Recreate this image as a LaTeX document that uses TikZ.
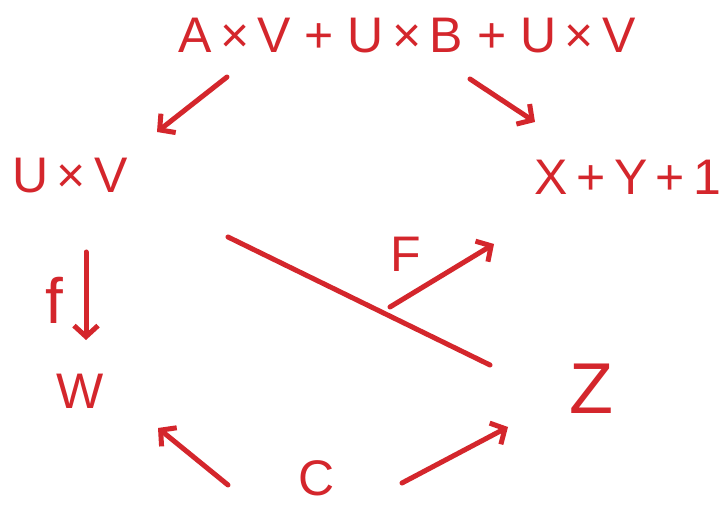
\documentclass[tikz,border=0pt]{standalone}
\usepackage{fontspec}
\setmainfont{Liberation Sans}
\usetikzlibrary{arrows.meta}
\definecolor{ink}{RGB}{212,38,44}
\begin{document}
\begin{tikzpicture}[x=1pt,y=-1pt,
  lbl/.style={text=ink,font=\fontsize{50}{56}\selectfont,inner sep=0pt,anchor=center},
  biglbl/.style={lbl,font=\fontsize{72}{78}\selectfont},
  flbl/.style={lbl,font=\fontsize{64}{70}\selectfont},
  stroke/.style={draw=ink,line width=5pt,line cap=round,line join=round},
  arr/.style={stroke,-{Straight Barb[length=11pt,width=24pt]}}]
\useasboundingbox[fill=white] (0,0) rectangle (724,508);
% labels
\node[lbl] (top) at (407,36) {A\,×\,V + U\,×\,B + U\,×\,V};
\node[lbl] (uv) at (70,176) {U\,×\,V};
\node[lbl] (xy1) at (628,177) {X\,+\,Y\,+\,1};
\node[flbl] (flbl) at (54,300) {f};
\node[lbl] (w) at (80,391) {W};
\node[lbl] (F) at (406,254) {F};
\node[biglbl] (z) at (591,389) {Z};
\node[lbl] (c) at (317,478) {C};
% connector end points
\coordinate (a1s) at (227,77);  \coordinate (a1e) at (157,132);
\coordinate (a2s) at (470,79);  \coordinate (a2e) at (535,122);
\coordinate (fs) at (86,252);   \coordinate (fe) at (86,340);
\coordinate (ls) at (228,237);  \coordinate (le) at (490,365);
\coordinate (Fs) at (390,307);  \coordinate (Fe) at (494,244);
\coordinate (cLs) at (228,485); \coordinate (cLe) at (158,428);
\coordinate (cRs) at (402,483); \coordinate (cRe) at (508,427);
% connectors
\draw[arr] (a1s) -- (a1e);
\draw[arr] (a2s) -- (a2e);
\draw[arr] (fs) -- (fe);
\draw[stroke] (ls) -- (le);
\draw[arr] (Fs) -- (Fe);
\draw[arr] (cLs) -- (cLe);
\draw[arr] (cRs) -- (cRe);
\end{tikzpicture}
\end{document}
